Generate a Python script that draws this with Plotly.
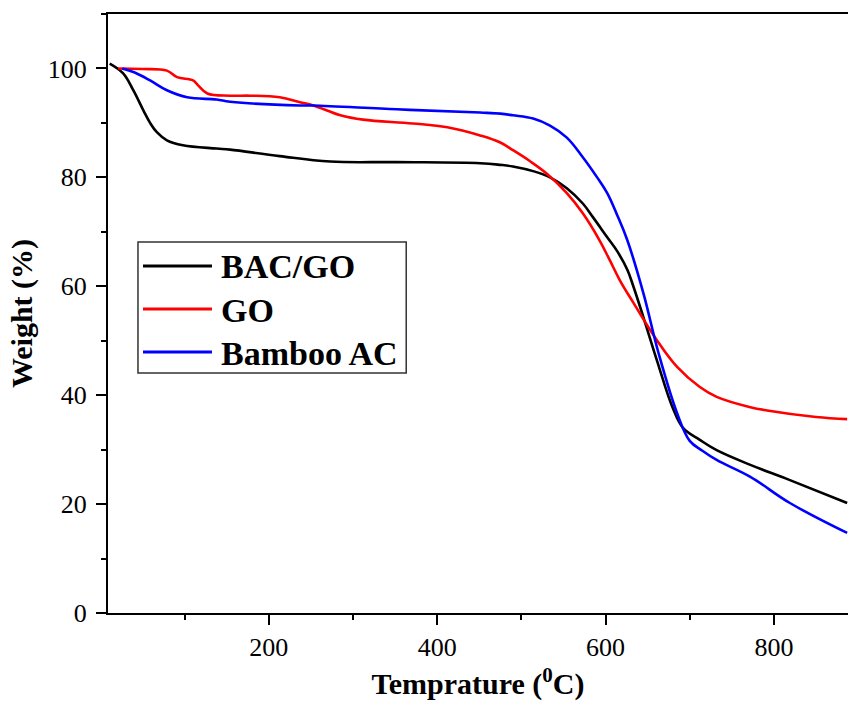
import plotly.graph_objects as go

# Temperature (°C) and weight (%)
bacgo_t = [11, 27, 39, 51, 59, 67, 79, 98, 138, 154, 213, 273, 352, 451, 475, 490, 515, 534, 554, 573, 585, 602, 614, 626, 633, 645, 661, 680, 692, 712, 732, 772, 819, 887]
bacgo_w = [100.9, 99.1, 96.0, 92.3, 90.0, 88.3, 86.8, 85.9, 85.3, 85.1, 83.9, 82.9, 82.8, 82.6, 82.3, 82.0, 81.1, 80.0, 78.0, 75.2, 72.7, 69.0, 66.4, 63.0, 60.0, 54.3, 46.4, 37.6, 34.0, 31.8, 29.9, 27.2, 24.4, 20.2]

go_t = [21, 50, 79, 91, 110, 116, 127, 154, 178, 213, 237, 253, 285, 312, 371, 412, 451, 475, 490, 510, 530, 554, 573, 593, 605, 617, 633, 661, 685, 712, 732, 772, 792, 850, 887]
go_w = [100.0, 99.9, 99.6, 98.4, 97.8, 96.9, 95.4, 95.0, 95.0, 94.7, 93.8, 93.2, 91.4, 90.6, 89.9, 89.2, 87.7, 86.4, 85.0, 83.0, 80.7, 77.1, 73.4, 68.4, 64.8, 61.1, 57.0, 50.1, 45.2, 41.5, 39.7, 37.8, 37.2, 36.0, 35.6]

bac_t = [26, 40, 59, 79, 103, 138, 154, 237, 253, 352, 451, 475, 490, 514, 534, 554, 573, 590, 602, 614, 626, 645, 663, 685, 700, 715, 732, 772, 819, 887]
bac_w = [100.0, 99.3, 97.8, 96.0, 94.7, 94.3, 93.9, 93.2, 93.2, 92.5, 91.9, 91.7, 91.4, 90.8, 89.5, 87.3, 83.7, 80.0, 77.1, 73.0, 68.4, 58.7, 47.7, 36.7, 31.6, 29.8, 28.1, 25.0, 20.2, 14.7]

names = ["BAC/GO", "GO", "Bamboo AC"]
colors = ["#000000", "#ff0000", "#0000ff"]
temps = [bacgo_t, go_t, bac_t]
weights = [bacgo_w, go_w, bac_w]

x_ticks = [200, 400, 600, 800]
y_ticks = [0, 20, 40, 60, 80, 100]

fig = go.Figure()
for name, t, w, c in zip(names, temps, weights, colors):
    fig.add_trace(go.Scatter(x=t, y=w, name=name, mode="lines", showlegend=False,
                             line=dict(color=c, width=2.6, shape="spline", smoothing=1.1)))

serif = "Liberation Serif, Times New Roman, serif"

# legend box drawn in paper coordinates
shapes = [dict(type="rect", xref="paper", yref="paper", x0=0.0405, x1=0.403, y0=0.4007, y1=0.6194,
               line=dict(color="#333333", width=1.5), fillcolor="white", layer="above")]
annotations = []
leg_y = [0.5793, 0.5075, 0.4357]
for name, c, yy in zip(names, colors, leg_y):
    shapes.append(dict(type="line", xref="paper", yref="paper", x0=0.0473, x1=0.1405, y0=yy, y1=yy,
                       line=dict(color=c, width=3), layer="above"))
    annotations.append(dict(xref="paper", yref="paper", x=0.1500, y=yy, xanchor="left", yanchor="middle",
                            text="<b>" + name + "</b>", showarrow=False, yshift=-1,
                            font=dict(family=serif, size=34, color="black")))

fig.update_layout(
    width=848, height=705,
    margin=dict(l=108, r=0, t=14, b=92),
    paper_bgcolor="white", plot_bgcolor="white",
    font=dict(family=serif, color="black"),
    showlegend=False,
    shapes=shapes, annotations=annotations,
    xaxis=dict(range=[9, 888], tickvals=x_ticks, ticks="outside", ticklen=10, tickwidth=2,
               tickcolor="black", showline=True, linecolor="black", linewidth=2,
               mirror=True, showgrid=False, zeroline=False,
               tickfont=dict(family=serif, size=26),
               minor=dict(tickvals=[100, 300, 500, 700], ticks="outside", ticklen=5,
                          tickwidth=2, tickcolor="black", showgrid=False),
               title=dict(text="<b>Temprature (<sup>0</sup>C)</b>", standoff=12,
                          font=dict(family=serif, size=30))),
    yaxis=dict(range=[0, 110], tickvals=y_ticks, ticks="outside", ticklen=10, tickwidth=2,
               tickcolor="black", showline=True, linecolor="black", linewidth=2,
               showgrid=False, zeroline=False, ticklabelstandoff=4,
               tickfont=dict(family=serif, size=26),
               minor=dict(tickvals=[10, 30, 50, 70, 90, 110], ticks="outside", ticklen=5,
                          tickwidth=2, tickcolor="black", showgrid=False),
               title=dict(text="<b>Weight (%)</b>", standoff=6,
                          font=dict(family=serif, size=30))),
)

fig.write_html("out.html")
